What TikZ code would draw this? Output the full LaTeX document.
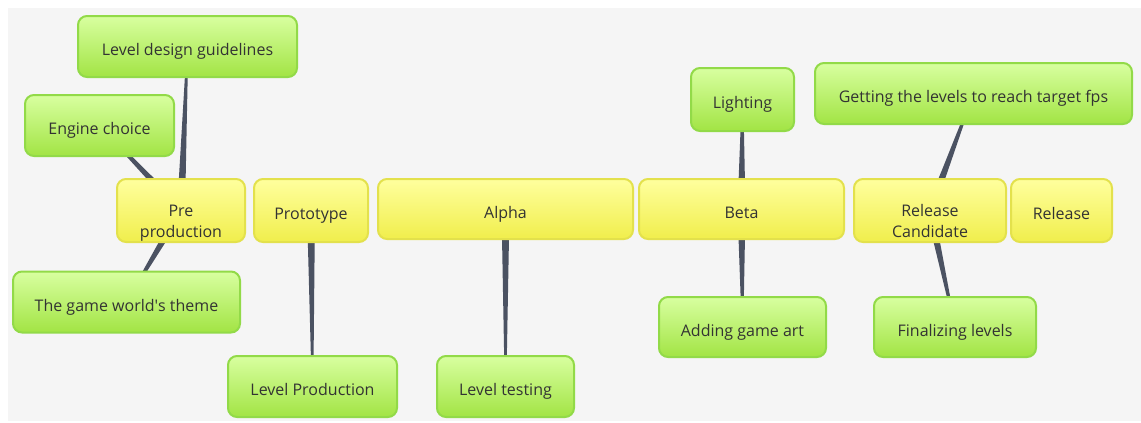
\documentclass[tikz,border=0pt]{standalone}
\usepackage{fontspec}
\setmainfont{Open Sans}
\usepackage{xcolor}
\usetikzlibrary{positioning, calc, backgrounds}

\definecolor{back_grey}{HTML}{F5F5F5}
\definecolor{text_grey}{HTML}{333333}
\definecolor{link_grey}{HTML}{4B5262}
\definecolor{phase_top}{HTML}{FFFF9E}
\definecolor{phase_bot}{HTML}{F0EE4C}
\definecolor{phase_line}{HTML}{E3E14C}
\definecolor{task_top}{HTML}{D8FFA0}
\definecolor{task_bot}{HTML}{A2E444}
\definecolor{task_line}{HTML}{92DA48}

% tapered connector, wide at the phase, thin at the task
\newcommand{\taperlink}[2]{%
	\fill[link_grey] ($(#1)!4pt!90:(#2)$) -- ($(#2)!0.8pt!-90:(#1)$) -- ($(#2)!0.8pt!90:(#1)$) -- ($(#1)!4pt!-90:(#2)$) -- cycle;}

\begin{document}
\begin{tikzpicture}[x = 1pt, y = -1pt,
		phase_node/.style = {rectangle, rounded corners = 9pt, draw = phase_line, line width = 2pt, top color = phase_top, bottom color = phase_bot, text = text_grey, align = center, inner sep = 0pt, text height = 18.6pt, text depth = 0pt, font = \fontsize{16}{21}\selectfont},
		task_node/.style = {rectangle, rounded corners = 9pt, draw = task_line, line width = 2pt, top color = task_top, bottom color = task_bot, text = text_grey, align = center, inner sep = 0pt, text height = 18.6pt, text depth = 0pt, font = \fontsize{16}{21}\selectfont},
		two_lines/.style = {text height = 54.4pt, text depth = 0pt},
		box/.style 2 args = {minimum width = #1, minimum height = #2},
		]
		\useasboundingbox (0,0) rectangle (1141,423);
		
		%phases
		\node[phase_node, two_lines, box = {128pt}{63pt}] (pre) at (181,210.5) {Pre\\production};
		\node[phase_node, box = {114pt}{63pt}] (proto) at (311,210.5) {Prototype};
		\node[phase_node, box = {255pt}{60pt}] (alpha) at (505.5,209) {Alpha};
		\node[phase_node, box = {205pt}{60pt}] (beta) at (741.5,209) {Beta};
		\node[phase_node, two_lines, box = {152pt}{63pt}] (rc) at (930,210.5) {Release\\Candidate};
		\node[phase_node, box = {101pt}{63pt}] (release) at (1061.5,210.5) {Release};
		
		%pre production
		\node[task_node, box = {219pt}{61pt}] (guide) at (187.5,46.5) {Level design guidelines};
		\node[task_node, box = {149pt}{61pt}] (engine) at (99.5,125.5) {Engine choice};
		\node[task_node, box = {227pt}{61pt}] (theme) at (126.5,302) {The game world\textquotesingle s theme};
		
		%prototype and alpha
		\node[task_node, box = {169pt}{61pt}] (prod) at (312.5,386.5) {Level Production};
		\node[task_node, box = {137pt}{61pt}] (testing) at (505.5,386.5) {Level testing};
		
		%beta
		\node[task_node, box = {103pt}{63pt}] (light) at (742.5,99.5) {Lighting};
		\node[task_node, box = {167pt}{60pt}] (art) at (742.5,327) {Adding game art};
		
		%release candidate
		\node[task_node, box = {317pt}{61pt}] (fps) at (973.5,93.5) {Getting the levels to reach target fps};
		\node[task_node, box = {162pt}{60pt}] (final) at (955,327) {Finalizing levels};
		
		\begin{scope}[on background layer]
		\fill[back_grey] (8,8) rectangle (1141,421);
		\taperlink{pre}{guide}
		\taperlink{pre}{engine}
		\taperlink{pre}{theme}
		\taperlink{proto}{prod}
		\taperlink{alpha}{testing}
		\taperlink{beta}{light}
		\taperlink{beta}{art}
		\taperlink{rc}{fps}
		\taperlink{rc}{final}
		\end{scope}

\end{tikzpicture}
\end{document}
